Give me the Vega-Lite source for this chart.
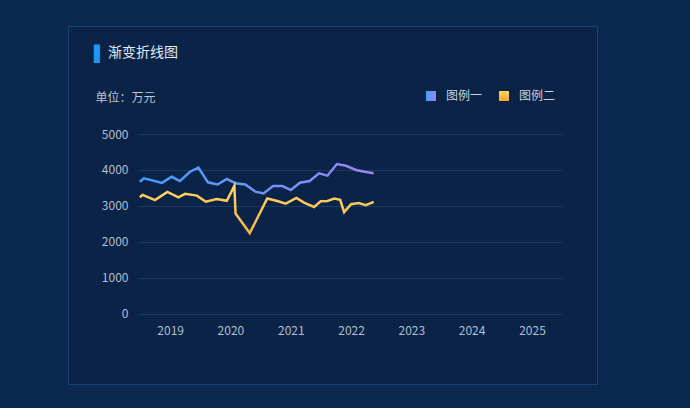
{
  "$schema": "https://vega.github.io/schema/vega-lite/v6.json",
  "autosize": {"type": "none"},
  "width": 529,
  "height": 358,
  "padding": {"left": 68, "top": 26, "right": 93, "bottom": 24},
  "background": "#0b2850",
  "title": {
    "text": "渐变折线图",
    "anchor": "start",
    "frame": "group",
    "orient": "top",
    "offset": 0,
    "dx": 40,
    "dy": 41,
    "baseline": "middle",
    "color": "#e3e9f2",
    "fontSize": 14,
    "fontWeight": "normal",
    "font": "Noto Sans CJK SC"
  },
  "data": {
    "values": [
      {"series": "图例一", "date": "2018-07-01", "value": 3670},
      {"series": "图例一", "date": "2018-07-26", "value": 3765},
      {"series": "图例一", "date": "2018-09-15", "value": 3710},
      {"series": "图例一", "date": "2018-11-12", "value": 3640},
      {"series": "图例一", "date": "2019-01-10", "value": 3810},
      {"series": "图例一", "date": "2019-03-01", "value": 3690},
      {"series": "图例一", "date": "2019-05-01", "value": 3950},
      {"series": "图例一", "date": "2019-06-21", "value": 4065},
      {"series": "图例一", "date": "2019-08-18", "value": 3655},
      {"series": "图例一", "date": "2019-10-15", "value": 3595},
      {"series": "图例一", "date": "2019-12-10", "value": 3750},
      {"series": "图例一", "date": "2020-01-31", "value": 3630},
      {"series": "图例一", "date": "2020-03-31", "value": 3595},
      {"series": "图例一", "date": "2020-05-31", "value": 3395},
      {"series": "图例一", "date": "2020-07-20", "value": 3345},
      {"series": "图例一", "date": "2020-09-15", "value": 3550},
      {"series": "图例一", "date": "2020-11-11", "value": 3550},
      {"series": "图例一", "date": "2021-01-01", "value": 3440},
      {"series": "图例一", "date": "2021-02-25", "value": 3645},
      {"series": "图例一", "date": "2021-04-25", "value": 3690},
      {"series": "图例一", "date": "2021-06-21", "value": 3905},
      {"series": "图例一", "date": "2021-08-11", "value": 3840},
      {"series": "图例一", "date": "2021-10-07", "value": 4165},
      {"series": "图例一", "date": "2021-12-01", "value": 4115},
      {"series": "图例一", "date": "2022-01-31", "value": 4000},
      {"series": "图例一", "date": "2022-03-25", "value": 3950},
      {"series": "图例一", "date": "2022-05-18", "value": 3905},
      {"series": "图例二", "date": "2018-07-01", "value": 3240},
      {"series": "图例二", "date": "2018-07-18", "value": 3305},
      {"series": "图例二", "date": "2018-10-01", "value": 3160},
      {"series": "图例二", "date": "2018-12-15", "value": 3390},
      {"series": "图例二", "date": "2019-02-20", "value": 3240},
      {"series": "图例二", "date": "2019-04-01", "value": 3335},
      {"series": "图例二", "date": "2019-06-12", "value": 3285},
      {"series": "图例二", "date": "2019-08-05", "value": 3115},
      {"series": "图例二", "date": "2019-10-10", "value": 3190},
      {"series": "图例二", "date": "2019-12-10", "value": 3140},
      {"series": "图例二", "date": "2020-01-25", "value": 3556},
      {"series": "图例二", "date": "2020-02-01", "value": 2785},
      {"series": "图例二", "date": "2020-04-27", "value": 2243},
      {"series": "图例二", "date": "2020-08-11", "value": 3204},
      {"series": "图例二", "date": "2020-10-11", "value": 3137},
      {"series": "图例二", "date": "2020-12-01", "value": 3064},
      {"series": "图例二", "date": "2021-02-04", "value": 3221},
      {"series": "图例二", "date": "2021-03-22", "value": 3092},
      {"series": "图例二", "date": "2021-05-22", "value": 2969},
      {"series": "图例二", "date": "2021-07-01", "value": 3128},
      {"series": "图例二", "date": "2021-08-11", "value": 3137},
      {"series": "图例二", "date": "2021-09-21", "value": 3204},
      {"series": "图例二", "date": "2021-10-27", "value": 3170},
      {"series": "图例二", "date": "2021-11-20", "value": 2825},
      {"series": "图例二", "date": "2022-01-01", "value": 3045},
      {"series": "图例二", "date": "2022-02-16", "value": 3081},
      {"series": "图例二", "date": "2022-04-01", "value": 3020},
      {"series": "图例二", "date": "2022-05-18", "value": 3112}
    ]
  },
  "encoding": {
    "x": {
      "field": "date",
      "type": "temporal",
      "scale": {
        "domain": [{"year": 2018, "month": 6, "date": 20}, {"year": 2025, "month": 7, "date": 2}],
        "range": [70, 494],
        "nice": false
      },
      "axis": {
        "title": "▌",
        "titleColor": "#2196f3",
        "titleFont": "DejaVu Sans",
        "titleFontSize": 15.5,
        "titleFontWeight": "normal",
        "titleX": 25.5,
        "titleY": -261,
        "titleAlign": "left",
        "titleBaseline": "middle",
        "titleAngle": 0,
        "offset": -70,
        "grid": false,
        "domain": false,
        "ticks": false,
        "tickSize": 0,
        "labelPadding": 11,
        "labelColor": "#b4bfcf",
        "labelFontSize": 12,
        "labelFont": "Noto Sans CJK SC",
        "format": "%Y",
        "tickCount": {"interval": "year", "step": 1},
        "labelFlush": false,
        "labelOverlap": false
      }
    },
    "y": {
      "field": "value",
      "type": "quantitative",
      "scale": {"domain": [0, 5000], "range": [287.7, 108], "nice": false},
      "axis": {
        "title": "单位：万元",
        "titleX": -43,
        "titleY": 71,
        "titleAngle": 0,
        "titleAlign": "left",
        "titleBaseline": "middle",
        "titleColor": "#bcc6d4",
        "titleFontSize": 12,
        "titleFontWeight": "normal",
        "titleFont": "Noto Sans CJK SC",
        "offset": -70,
        "values": [0, 1000, 2000, 3000, 4000, 5000],
        "format": "d",
        "grid": true,
        "gridColor": "#1b3a62",
        "gridWidth": 1,
        "domain": false,
        "ticks": false,
        "tickSize": 0,
        "labelPadding": 10,
        "labelColor": "#b4bfcf",
        "labelFontSize": 12,
        "labelFont": "Noto Sans CJK SC"
      }
    },
    "opacity": {
      "field": "series",
      "type": "nominal",
      "scale": {"domain": ["图例一", "图例二"], "range": [1, 1]},
      "legend": {
        "orient": "none",
        "legendX": 357,
        "legendY": 64,
        "direction": "horizontal",
        "title": null,
        "symbolType": "square",
        "symbolSize": 100,
        "symbolStrokeWidth": 0,
        "symbolFillColor": {"expr": "datum.value === '图例一' ? {gradient: 'linear', x1: 0, y1: 0, x2: 1, y2: 0, stops: [{offset: 0, color: '#3fa0ff'}, {offset: 1, color: '#9a86f0'}]} : {gradient: 'linear', x1: 0, y1: 0, x2: 0, y2: 1, stops: [{offset: 0, color: '#ffd660'}, {offset: 1, color: '#f7a62a'}]}"},
        "symbolOpacity": 1,
        "labelColor": "#c9d2df",
        "labelFontSize": 12,
        "labelFont": "Noto Sans CJK SC",
        "labelOffset": 9,
        "columnPadding": 15,
        "padding": 0
      }
    }
  },
  "layer": [
    {
      "transform": [{"filter": "datum.series === '图例一'"}],
      "mark": {
        "type": "line",
        "strokeWidth": 2.5,
        "clip": false,
        "stroke": {"gradient": "linear", "x1": 0, "y1": 0, "x2": 1, "y2": 0, "stops": [{"offset": 0, "color": "#3fa0ff"}, {"offset": 1, "color": "#9a86f0"}]}
      }
    },
    {
      "transform": [{"filter": "datum.series === '图例二'"}],
      "mark": {
        "type": "line",
        "strokeWidth": 2.5,
        "clip": false,
        "stroke": {"gradient": "linear", "x1": 0, "y1": 0, "x2": 0, "y2": 1, "stops": [{"offset": 0, "color": "#fdd564"}, {"offset": 1, "color": "#f4b545"}]}
      }
    }
  ],
  "config": {
    "view": {"fill": "#0a2347", "stroke": "#114470", "strokeWidth": 1}
  }
}
